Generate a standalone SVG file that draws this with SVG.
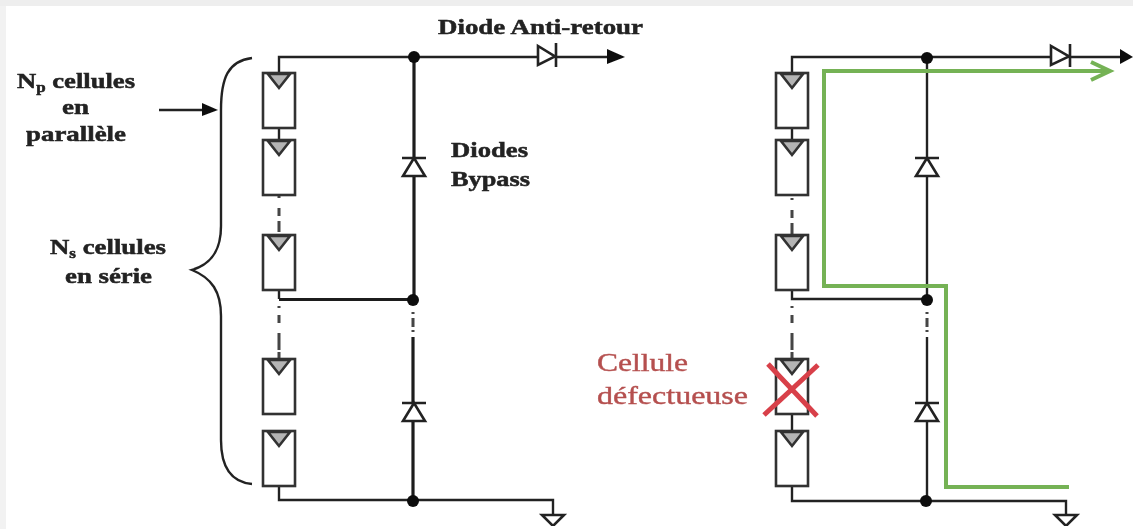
<svg xmlns="http://www.w3.org/2000/svg" width="1133" height="529" viewBox="0 0 1133 529">
<style>
.w{fill:none;stroke:#222;stroke-width:2.4}
.t{fill:none;stroke:#1c1c1c;stroke-width:3.2}
.d{fill:none;stroke:#444;stroke-width:3}
.c{fill:#fff;stroke:#333;stroke-width:2.6}
.v{fill:#b4b4b4;stroke:#333;stroke-width:2.6}
.dio{fill:#fff;stroke:#222;stroke-width:2.6}
.j{fill:#0c0c0c}
.b{font-family:"Liberation Serif","Times New Roman",serif;font-weight:bold;font-size:22px;fill:#222;stroke:#222;stroke-width:.5}
.r{font-family:"Liberation Serif","Times New Roman",serif;font-size:25px;fill:#b5504f;stroke:#b5504f;stroke-width:.4}
.g{fill:none;stroke:#74b254;stroke-width:4}
.x{fill:none;stroke:#d8404a;stroke-width:5}
</style>
<defs>
<filter id="soft" x="0" y="0" width="100%" height="100%"><feGaussianBlur stdDeviation="0.6"/></filter>
<g id="cell"><rect class="c" x="-16" y="0" width="32" height="55"/><path class="v" d="M-11 1H11L0 15Z"/></g>
<path id="bp" class="dio" d="M-12 0H12M0 0L-11 18H11Z"/>
<path id="gnd" class="dio" d="M-11 0H11L0 11Z"/>
</defs>
<rect width="1133" height="529" fill="#fff"/>
<rect width="1133" height="6" fill="#eeeeee"/>
<rect y="6" width="6" height="523" fill="#f2f2f2"/>
<g filter="url(#soft)">
<g id="connectors">
<path class="w" d="M279 73V57H537M556 57H608M279 127V140M279 289V299M279 486V500H553V515"/>
<path class="d" stroke-dasharray="2 10 8 5 11" d="M279 196V236"/>
<path class="d" stroke-dasharray="2 7 8 10 17" d="M279 306V359"/>
<path class="d" stroke-dasharray="2 4 9 3 2" d="M413 312V332"/>
<path class="t" d="M414 57V300M279 299.500H414M413 337V404M413 420V500"/>
<path d="M607 49L625 57L607 64Z" fill="#111"/>
<path class="w" d="M159 110H204"/><path d="M202 103L218 110L202 116Z" fill="#111"/>
<path class="w" d="M252 58C228 61 221 78 221 110V226C221 250 212 264 192 270C212 278 221 292 221 316V440C221 466 230 482 252 484"/>
<path class="w" d="M792 73V57H1050M1070 57H1122M792 129V140M792 291V299H927M792 415V431M792 487V501H1066V515"/>
<path class="d" stroke-dasharray="2 10 8 5 11" d="M792 198V236"/>
<path class="d" stroke-dasharray="2 7 8 10 17" d="M792 306V359"/>
<path class="d" stroke-dasharray="2 4 9 3 2" d="M927 312V332"/>
<path class="w" d="M927 57V157M927 175V300M927 337V404M927 420V501"/>
<path d="M1120 49L1133 57L1120 64Z" fill="#111"/>
</g>
<g id="cells-left">
<use href="#cell" x="279" y="73"/><use href="#cell" x="279" y="140"/><use href="#cell" x="279" y="235"/><use href="#cell" x="279" y="359"/><use href="#cell" x="279" y="431"/>
</g>
<g id="cells-right">
<use href="#cell" x="792" y="73"/><use href="#cell" x="792" y="140"/><use href="#cell" x="792" y="235"/><use href="#cell" x="792" y="359"/><use href="#cell" x="792" y="431"/>
</g>
<g id="diodes">
<use href="#bp" x="414" y="158"/><use href="#bp" x="414" y="403"/><use href="#bp" x="927" y="158"/><use href="#bp" x="927" y="403"/>
<path class="dio" d="M538 46V65L555 56.500ZM556 43V67"/>
<path class="dio" d="M1051 46V65L1069 56.500ZM1070 44V67"/>
<use href="#gnd" x="553" y="515"/><use href="#gnd" x="1066" y="515"/>
</g>
<g id="junctions">
<circle class="j" cx="414" cy="57" r="6"/><circle class="j" cx="413" cy="300" r="6"/><circle class="j" cx="413" cy="501" r="6"/>
<circle class="j" cx="927" cy="58" r="6"/><circle class="j" cx="927" cy="300" r="6"/><circle class="j" cx="926" cy="501" r="6"/>
</g>
<g id="current">
<path class="g" d="M1108 71H824V286H946V487H1069"/>
<path class="g" d="M1091 62L1110 71L1091 80"/>
</g>
<g id="fault">
<path class="x" d="M764 415L818 365M768 364L817 416"/>
<text class="r" x="597" y="371" textLength="91" lengthAdjust="spacingAndGlyphs">Cellule</text>
<text class="r" x="597" y="404" textLength="151" lengthAdjust="spacingAndGlyphs">défectueuse</text>
</g>
<g id="labels">
<text class="b" x="17" y="88" textLength="118" lengthAdjust="spacingAndGlyphs">N<tspan font-size="14" dy="4">p</tspan><tspan dy="-4"> cellules</tspan></text>
<text class="b" x="62" y="114" textLength="27" lengthAdjust="spacingAndGlyphs">en</text>
<text class="b" x="26" y="141" textLength="100" lengthAdjust="spacingAndGlyphs">parallèle</text>
<text class="b" x="50" y="254" textLength="116" lengthAdjust="spacingAndGlyphs">N<tspan font-size="14" dy="4">s</tspan><tspan dy="-4"> cellules</tspan></text>
<text class="b" x="65" y="283" textLength="87" lengthAdjust="spacingAndGlyphs">en série</text>
<text class="b" x="451" y="157" textLength="77" lengthAdjust="spacingAndGlyphs">Diodes</text>
<text class="b" x="451" y="186" textLength="79" lengthAdjust="spacingAndGlyphs">Bypass</text>
<text class="b" x="438" y="34" textLength="205" lengthAdjust="spacingAndGlyphs">Diode Anti-retour</text>
</g>
</g>
</svg>
